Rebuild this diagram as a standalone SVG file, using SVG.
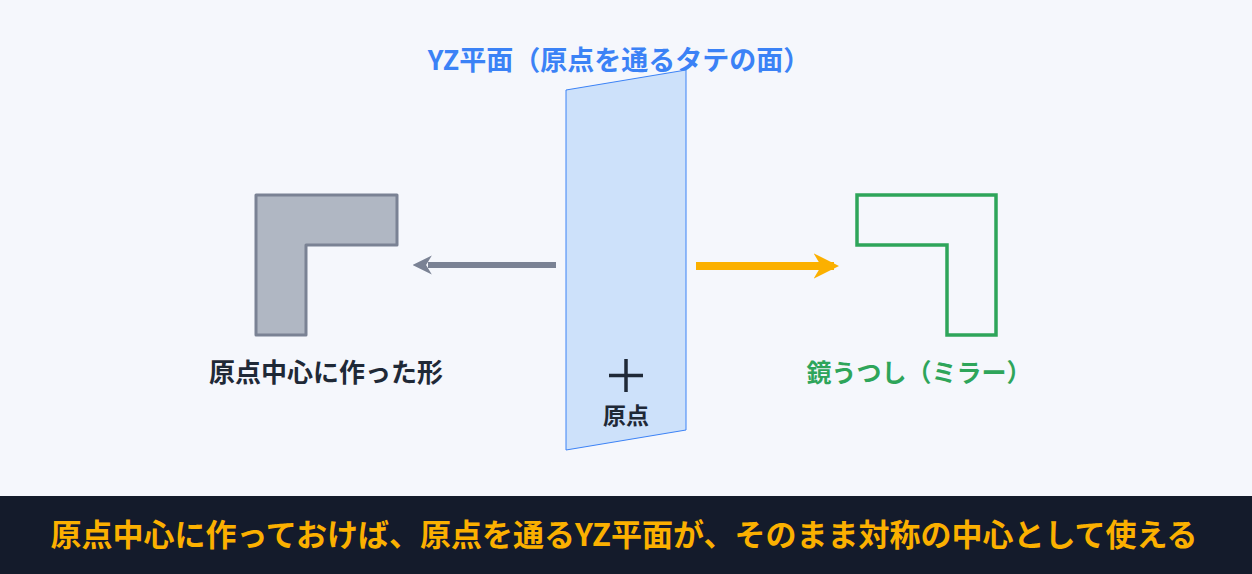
<svg xmlns="http://www.w3.org/2000/svg" width="1252" height="574" viewBox="0 0 1252 574">
<defs>
<style>
text{font-family:"Noto Sans CJK JP","Noto Sans",sans-serif;font-weight:bold;text-anchor:middle}
.title{fill:#3b82f6;font-size:27px}
.dark{fill:#1f2937}
.green{fill:#2ea55a}
.foot{fill:#fbb000;font-size:31px}
</style>
<marker id="ahGray" viewBox="0 0 10 10" refX="2" refY="5" markerWidth="3.2" markerHeight="3.2" orient="auto" markerUnits="strokeWidth">
<path d="M0,0 L10,5 L0,10 L3,5 Z" fill="#7a8294"/>
</marker>
<marker id="ahOrange" viewBox="0 0 10 10" refX="8" refY="5" markerWidth="3.2" markerHeight="3.2" orient="auto" markerUnits="strokeWidth">
<path d="M0,0 L10,5 L0,10 L3,5 Z" fill="#fbb000"/>
</marker>
</defs>
<rect width="1252" height="574" fill="#f5f7fc"/>
<g id="title"><text class="title" x="619" y="70">YZ平面（原点を通るタテの面）</text></g>
<g id="plane">
<polygon points="566,90 686,70 686,430 566,450" fill="#cde1fa" stroke="#3b82f6" stroke-width="1"/>
<path d="M626,359 V392 M609,375.5 H643" stroke="#1f2937" stroke-width="3.5"/>
<text class="dark" x="626" y="424" font-size="23">原点</text>
</g>
<g id="original">
<polygon points="256,195 397,195 397,245 306,245 306,335 256,335" fill="#b0b7c3" stroke="#7a8294" stroke-width="3" stroke-linejoin="round"/>
<text class="dark" x="326" y="382" font-size="26">原点中心に作った形</text>
</g>
<g id="mirror">
<polygon points="857,195 996,195 996,335 947,335 947,245 857,245" fill="none" stroke="#2ea55a" stroke-width="3.5"/>
<text class="green" x="919" y="382" font-size="25">鏡うつし（ミラー）</text>
</g>
<g id="connectors">
<line x1="556" y1="265" x2="428" y2="265" stroke="#7a8294" stroke-width="6" marker-end="url(#ahGray)"/>
<line x1="696" y1="266" x2="834" y2="266" stroke="#fbb000" stroke-width="8" marker-end="url(#ahOrange)"/>
</g>
<g id="footer">
<rect x="0" y="496" width="1252" height="78" fill="#141b2b"/>
<text class="foot" x="624" y="546">原点中心に作っておけば、原点を通るYZ平面が、そのまま対称の中心として使える</text>
</g>
</svg>
